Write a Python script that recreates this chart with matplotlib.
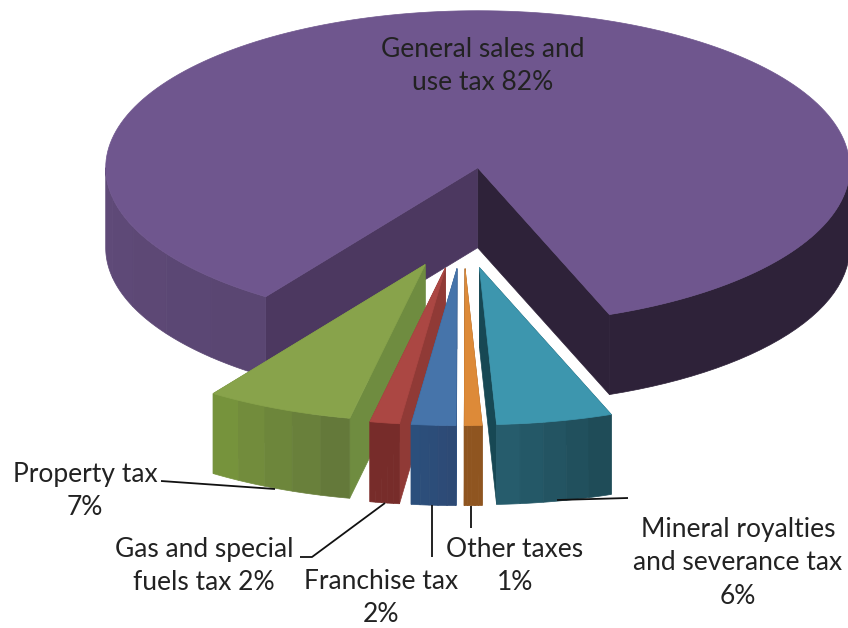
#!/usr/bin/env python3
"""Exploded 3-D style pie of state tax revenue shares, drawn with polygons."""

import numpy as np
import matplotlib
matplotlib.use("Agg")
import matplotlib.pyplot as plt
from matplotlib.colors import to_rgb
from matplotlib.patches import Polygon

# ── data ─────────────────────────────────────────────────────────────────────
categories = ["Property tax", "Gas and special fuels tax", "Franchise tax",
              "Other taxes", "Mineral royalties and severance tax",
              "General sales and use tax"]
# slice sizes; labels show them rounded
shares = [7.4, 1.5, 2.25, 0.9, 5.8, 82.15]
label_templates = ["Property tax\n{}%", "Gas and special\nfuels tax {}%",
                   "Franchise tax\n{}%", "Other taxes\n{}%",
                   "Mineral royalties\nand severance tax\n{}%",
                   "General sales and\nuse tax {}%"]

# ── colours: top, cut face, outer wall start, outer wall end ─────────────────
TOP_COLORS = ["#88a34b", "#ab4743", "#4674aa", "#dd8a38", "#3d96ae", "#6f568e"]
CUT_COLORS = ["#6f8c40", "#903a36", "#2d5284", "#8f5520", "#174854", "#4c3860"]
WALL_A = ["#76933c", "#772c2a", "#2b4f7c", "#8f5520", "#265c6c", "#5f4a78"]
WALL_B = ["#64793a", "#772c2a", "#2d4a75", "#8f5520", "#1f4c58", "#5a4672"]
MAIN_DARK = "#2e2239"
TEXT_COLOR = "#222222"

# ── pie geometry in picture pixels ───────────────────────────────────────────
RX, RY = 372, 157
DEPTH = 80
CX, CY = 463, 218
EXPLODE = 120
X_SQUEEZE = 0.8
APEX_NUDGE = [0, -2, 0, 0, -3, 3]
FRONT = -97       # screen angle of the middle of the small slices
WARP = 8.25       # perspective squeeze of the front, degrees

# label centres and leader lines
label_pos = [(85, 491), (204, 566), (381, 598), (515, 566), (738, 563), (483, 66)]
leaders = [[(161, 481), (275, 489)],
           [(300, 557), (312, 557), (385, 503)],
           [(432, 505), (432, 557)],
           [(471, 506), (471, 528)],
           [(557, 500), (628, 498)]]


def warp(u):
    return FRONT + u - WARP * np.sin(np.radians(u))


def rim(apex, ang, dy=0):
    a = np.radians(ang)
    return np.column_stack([apex[0] + RX * np.cos(a),
                            apex[1] - RY * np.sin(a) + dy])


def mix(c1, c2, t):
    c1, c2 = np.array(to_rgb(c1)), np.array(to_rgb(c2))
    return tuple(c1 + (c2 - c1) * t)


def poly(ax, pts, color, z):
    ax.add_patch(Polygon(pts, closed=True, fc=color, ec=color, lw=0.5, zorder=z))


def wall(ax, apex, a0, a1, c0, c1, z, bands=5):
    # outer wall in a few flat bands, as the old 3-D pie renderer did
    edges = np.linspace(a0, a1, bands + 1)
    for k in range(bands):
        sub = np.linspace(edges[k], edges[k + 1], 30)
        top = rim(apex, sub)
        bot = rim(apex, sub[::-1], DEPTH)
        poly(ax, np.vstack([top, bot]), mix(c0, c1, k / max(bands - 1, 1)), z)


def cut(ax, apex, ang, color, z):
    corner = rim(apex, [ang])[0]
    poly(ax, [apex, corner, (corner[0], corner[1] + DEPTH),
              (apex[0], apex[1] + DEPTH)], color, z)


# slice limits, small slices centred on the front
cum = np.concatenate([[0], np.cumsum(shares)]) * 360 / sum(shares)
cum = cum - cum[5] / 2
limits = warp(cum)

fig = plt.figure(figsize=(8.48, 6.28), dpi=100, facecolor="white")
ax = fig.add_axes([0, 0, 1, 1])
ax.set_xlim(0, 848)
ax.set_ylim(628, 0)
ax.axis("off")

for i in range(6):
    a0, a1 = limits[i], limits[i + 1]
    mid = np.radians((a0 + a1) / 2)
    apex = (CX + EXPLODE * X_SQUEEZE * np.cos(mid) + APEX_NUDGE[i],
            CY - EXPLODE * RY / RX * np.sin(mid))
    z = 2 + i * 5 if i < 5 else 1

    if i == 5:
        # main slice wraps round the back, only two wall stretches show
        cut(ax, apex, a0, MAIN_DARK, z)
        cut(ax, apex, a1, CUT_COLORS[i], z)
        wall(ax, apex, 180, a1, WALL_A[i], WALL_B[i], z)
        wall(ax, apex, a0, 0, MAIN_DARK, MAIN_DARK, z, bands=1)
    else:
        if apex[0] > CX:
            cut(ax, apex, a0, CUT_COLORS[i], z)
            cut(ax, apex, a1, CUT_COLORS[i], z + 1)
        else:
            cut(ax, apex, a1, CUT_COLORS[i], z)
            cut(ax, apex, a0, CUT_COLORS[i], z)
        wall(ax, apex, a0, a1, WALL_A[i], WALL_B[i], z + 2)

    arc = rim(apex, np.linspace(a0, a1, 200))
    poly(ax, np.vstack([[apex], arc]), TOP_COLORS[i], z + 3)

for pts in leaders:
    xs, ys = zip(*pts)
    ax.plot(xs, ys, color="#111111", lw=1.3, zorder=40, solid_capstyle="butt")

for tmpl, v, (x, y) in zip(label_templates, shares, label_pos):
    ax.text(x, y, tmpl.format(round(v)), ha="center", va="center", fontsize=19,
            family="Lato", color=TEXT_COLOR, linespacing=1.4, zorder=50)

fig.savefig("out.png", dpi=100, facecolor="white")
plt.close(fig)
